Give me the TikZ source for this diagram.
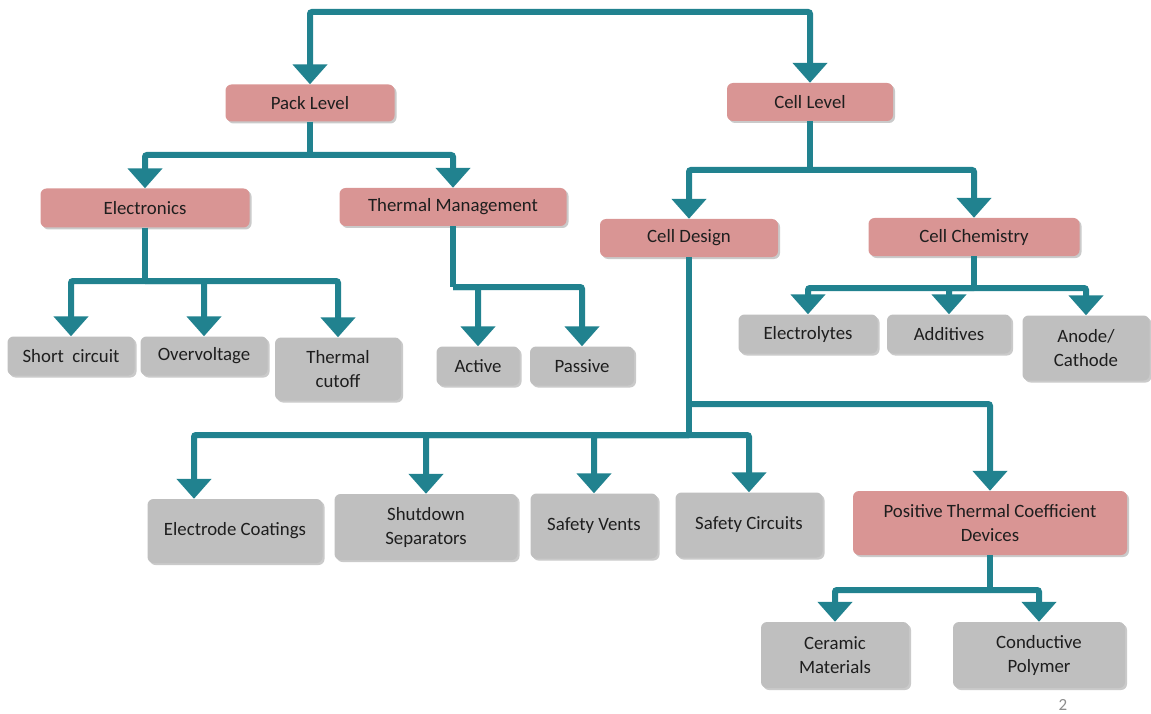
\documentclass[tikz,border=0pt]{standalone}
\usepackage{fontspec}
\setmainfont{Carlito}
\usetikzlibrary{arrows.meta,shadows}

\definecolor{linkteal}{RGB}{33,130,143}
\definecolor{boxpink}{RGB}{217,149,148}
\definecolor{boxgrey}{RGB}{191,191,191}
\definecolor{inktext}{RGB}{30,30,30}

\tikzset{
    box/.style={rounded corners=6pt, inner sep=0pt, align=center,
        text=inktext, font=\fontsize{18.8}{24}\selectfont,
        drop shadow={shadow xshift=2pt, shadow yshift=-2pt, opacity=0.35, fill=black!60}},
    pinkbox/.style={box, fill=boxpink},
    greybox/.style={box, fill=boxgrey},
    link/.style={draw=linkteal, line width=6pt, rounded corners=2pt},
    linkarrow/.style={link, -{Triangle[width=34pt,length=20pt]}}
}

\begin{document}
\begin{tikzpicture}[x=1pt, y=-1pt]
    \useasboundingbox (0,0) rectangle (1151,714);

    % level one
    \node[pinkbox, minimum width=169pt, minimum height=37pt] (pack) at (310,103) {Pack Level};
    \node[pinkbox, minimum width=166pt, minimum height=38pt] (cell) at (810,102) {Cell Level};

    % pack level children
    \node[pinkbox, minimum width=209pt, minimum height=39pt] (elec) at (145,208) {Electronics};
    \node[pinkbox, minimum width=227pt, minimum height=38pt] (therm) at (453,207) {Thermal Management};
    \node[greybox, minimum width=127pt, minimum height=39pt] (short) at (71,356) {Short~ circuit};
    \node[greybox, minimum width=127pt, minimum height=39pt] (overv) at (204,356) {Overvoltage};
    \node[greybox, minimum width=126pt, minimum height=63pt] (cutoff) at (338,369) {Thermal\\cutoff};
    \node[greybox, minimum width=83pt, minimum height=39pt] (active) at (478,366) {Active};
    \node[greybox, minimum width=104pt, minimum height=39pt] (passive) at (582,366) {Passive};

    % cell level children
    \node[pinkbox, minimum width=178pt, minimum height=38pt] (design) at (689,238) {Cell Design};
    \node[pinkbox, minimum width=211pt, minimum height=38pt] (chem) at (974,237) {Cell Chemistry};
    \node[greybox, minimum width=139pt, minimum height=39pt] (electrolyte) at (808,334) {Electrolytes};
    \node[greybox, minimum width=124pt, minimum height=39pt] (additive) at (949,334) {Additives};
    \node[greybox, minimum width=127pt, minimum height=65pt] (anode) at (1086,348) {Anode/\\Cathode};

    % cell design children
    \node[greybox, minimum width=175pt, minimum height=64pt] (coating) at (235,531) {Electrode Coatings};
    \node[greybox, minimum width=183pt, minimum height=66pt] (separator) at (426,527) {Shutdown\\Separators};
    \node[greybox, minimum width=127pt, minimum height=65pt] (vents) at (594,526) {Safety Vents};
    \node[greybox, minimum width=147pt, minimum height=65pt] (circuits) at (749,525) {Safety Circuits};
    \node[pinkbox, minimum width=274pt, minimum height=64pt] (ptc) at (990,523) {Positive Thermal Coefficient\\Devices};
    \node[greybox, minimum width=148pt, minimum height=66pt] (ceramic) at (835,655) {Ceramic\\Materials};
    \node[greybox, minimum width=172pt, minimum height=66pt] (polymer) at (1039,655) {Conductive\\Polymer};

    \node[text=black!45, font=\fontsize{17}{20}\selectfont] (pagenum) at (1063,705) {2};

    % junctions
    \coordinate (topj) at (560,12);
    \coordinate (packj) at (310,155);
    \coordinate (cellj) at (810,170);
    \coordinate (elecj) at (145,281);
    \coordinate (thermj) at (453,287);
    \coordinate (chemj) at (974,288);
    \coordinate (designj) at (689,435);
    \coordinate (designk) at (689,404);
    \coordinate (ptcj) at (990,590);

    % connectors
    \draw[linkarrow] (topj) -| (pack);
    \draw[linkarrow] (topj) -| (cell);

    \draw[link] (pack) -- (packj);
    \draw[linkarrow] (packj) -| (elec);
    \draw[linkarrow] (packj) -| (therm);

    \draw[link] (cell) -- (cellj);
    \draw[linkarrow] (cellj) -| (design);
    \draw[linkarrow] (cellj) -| (chem);

    \draw[link] (elec) -- (elecj);
    \draw[linkarrow] (elecj) -| (short);
    \draw[linkarrow] (elecj) -| (overv);
    \draw[linkarrow] (elecj) -| (cutoff);

    \draw[link] (therm) -- (thermj);
    \draw[linkarrow] (thermj) -| (active);
    \draw[linkarrow] (thermj) -| (passive);

    \draw[link] (chem) -- (chemj);
    \draw[linkarrow] (chemj) -| (electrolyte);
    \draw[linkarrow] (chemj) -| (additive);
    \draw[linkarrow] (chemj) -| (anode);

    \draw[link] (design) -- (designj);
    \draw[linkarrow] (designj) -| ([xshift=-41pt]coating.north);
    \draw[linkarrow] (designj) -| (separator);
    \draw[linkarrow] (designj) -| (vents);
    \draw[linkarrow] (designj) -| (circuits);
    \draw[linkarrow] (designk) -| (ptc);

    \draw[link] (ptc) -- (ptcj);
    \draw[linkarrow] (ptcj) -| (ceramic);
    \draw[linkarrow] (ptcj) -| (polymer);
\end{tikzpicture}
\end{document}
